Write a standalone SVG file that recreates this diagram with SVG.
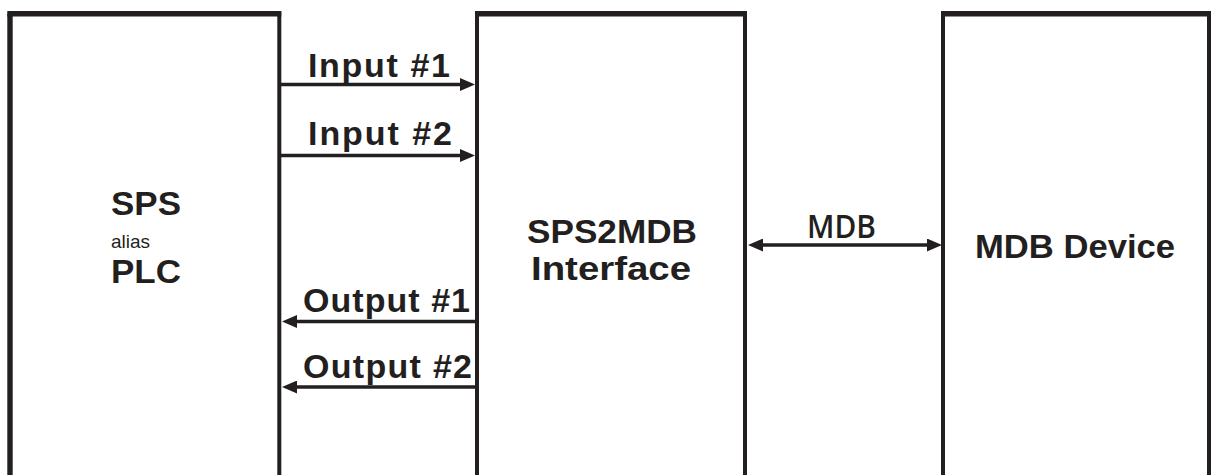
<svg xmlns="http://www.w3.org/2000/svg" width="1211" height="475" viewBox="0 0 1211 475">
  <style>
    .box { fill: none; stroke: #231f20; stroke-width: 4; }
    .top { stroke: #231f20; stroke-width: 5.5; }
    .conn { stroke: #231f20; stroke-width: 3.5; fill: none; }
    .t { font-family: "Liberation Sans", Arial, sans-serif; font-weight: bold; font-size: 34px; fill: #231f20; }
    .s { font-family: "Liberation Sans", Arial, sans-serif; font-size: 19px; fill: #231f20; }
    .m { font-family: "Open Sans", "Noto Sans", sans-serif; font-weight: 600; font-size: 32px; fill: #231f20; }
  </style>
  <defs>
    <marker id="ah" markerUnits="userSpaceOnUse" markerWidth="15" markerHeight="13" refX="5" refY="6.5" orient="auto-start-reverse">
      <path d="M0,0 L15,6.5 L0,13 Z" fill="#231f20"/>
    </marker>
  </defs>
  <rect width="1211" height="475" fill="#ffffff"/>

  <g id="plc">
    <path class="box" d="M10 475 V13.75 H279.3 V475"/>
    <line x1="10" y1="13.75" x2="10" y2="475" style="stroke:#231f20;stroke-width:5.4"/>
    <line class="top" x1="7.3" y1="13.75" x2="281.3" y2="13.75"/>
    <text class="t" x="111" y="215" textLength="70" lengthAdjust="spacingAndGlyphs">SPS</text>
    <text class="s" x="111" y="248">alias</text>
    <text class="t" x="111" y="283" textLength="70" lengthAdjust="spacingAndGlyphs">PLC</text>
  </g>

  <g id="interface">
    <path class="box" d="M477 475 V13.75 H745 V475"/>
    <line class="top" x1="475" y1="13.75" x2="747" y2="13.75"/>
    <text class="t" x="527" y="243" textLength="170" lengthAdjust="spacingAndGlyphs">SPS2MDB</text>
    <text class="t" x="531" y="280" textLength="160" lengthAdjust="spacingAndGlyphs">Interface</text>
  </g>

  <g id="device">
    <path class="box" d="M943 475 V13.75 H1209 V475"/>
    <line class="top" x1="941" y1="13.75" x2="1211" y2="13.75"/>
    <text class="t" x="975" y="258" textLength="200" lengthAdjust="spacingAndGlyphs">MDB Device</text>
  </g>

  <g id="connectors">
    <line class="conn" x1="281" y1="84.5" x2="465" y2="84.5" marker-end="url(#ah)"/>
    <text class="t" x="308" y="77" textLength="142" lengthAdjust="spacing">Input #1</text>
    <line class="conn" x1="281" y1="155.5" x2="465" y2="155.5" marker-end="url(#ah)"/>
    <text class="t" x="308" y="145" textLength="144" lengthAdjust="spacing">Input #2</text>
    <line class="conn" x1="475" y1="321.5" x2="292" y2="321.5" marker-end="url(#ah)"/>
    <text class="t" x="303" y="312" textLength="167" lengthAdjust="spacing">Output #1</text>
    <line class="conn" x1="475" y1="387" x2="292" y2="387" marker-end="url(#ah)"/>
    <text class="t" x="303" y="378" textLength="169" lengthAdjust="spacing">Output #2</text>
    <line class="conn" x1="758" y1="245" x2="932" y2="245" marker-start="url(#ah)" marker-end="url(#ah)"/>
    <text class="m" x="807" y="238" textLength="69" lengthAdjust="spacingAndGlyphs">MDB</text>
  </g>
</svg>
